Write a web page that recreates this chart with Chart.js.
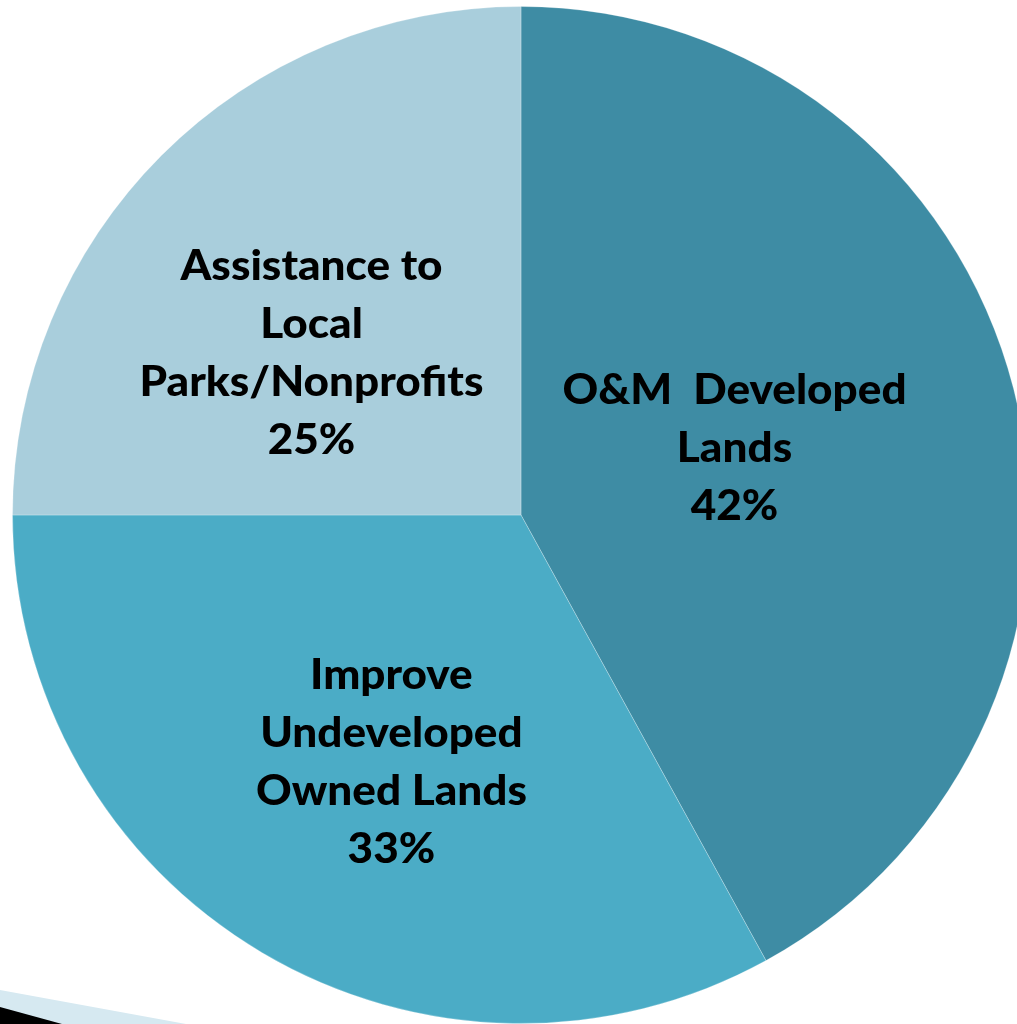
<!DOCTYPE html>
<html>
<head>
<meta charset="utf-8">
<script src="https://cdn.jsdelivr.net/npm/chart.js@4.4.1/dist/chart.umd.min.js"></script>
<style>
  html, body { margin: 0; padding: 0; background: #fff; overflow: hidden; width: 1017px; height: 1024px; }
  #wrap { position: absolute; left: 0; top: 0; width: 1042px; height: 1030px; }
  #deco { position: absolute; left: 0; top: 0; pointer-events: none; }
</style>
</head>
<body>
<div id="wrap"><canvas id="pie" width="1042" height="1030"></canvas></div>
<svg id="deco" width="1017" height="1024">
  <polygon points="0,990 186,1024 0,1024" fill="#d6e9f1"/>
  <polygon points="0,1007 62,1024 0,1024" fill="#000"/>
</svg>
<script>
// Datos del gráfico
const labels = [
    ['O&M  Developed', 'Lands'],
    ['Improve', 'Undeveloped', 'Owned Lands'],
    ['Assistance to', 'Local', 'Parks/Nonprofits']
];
const values = [42, 33, 25];
const colors = ['#3e8ca4', '#4bacc6', '#a9cedc'];

// Etiquetas dentro de cada porción (texto + porcentaje)
const sliceLabels = {
    id: 'sliceLabels',
    afterDatasetsDraw(chart, args, opts) {
        const ctx = chart.ctx;
        const meta = chart.getDatasetMeta(0);
        const total = values.reduce((a, b) => a + b, 0);
        ctx.save();
        ctx.fillStyle = '#000';
        ctx.font = opts.font;
        ctx.textAlign = 'center';
        ctx.textBaseline = 'middle';
        meta.data.forEach(function(arc, i) {
            const mid = (arc.startAngle + arc.endAngle) / 2 + opts.angleShift[i] * Math.PI / 180;
            const r = arc.outerRadius * opts.radius[i];
            const cx = arc.x + Math.cos(mid) * r;
            const cy = arc.y + Math.sin(mid) * r;
            const lines = labels[i].concat([Math.round(values[i] / total * 100) + '%']);
            const top = cy - (lines.length - 1) * opts.lineHeight / 2;
            lines.forEach(function(t, j) {
                ctx.save();
                ctx.translate(cx, top + j * opts.lineHeight);
                ctx.scale(opts.squeeze, 1);
                ctx.fillText(t, 0, 0);
                ctx.restore();
            });
        });
        ctx.restore();
    }
};

new Chart(document.getElementById('pie'), {
    type: 'pie',
    data: {
        labels: labels.map(l => l.join(' ')),
        datasets: [{
            data: values,
            backgroundColor: colors,
            borderColor: 'rgba(255, 255, 255, 0.25)',
            borderWidth: 1
        }]
    },
    options: {
        responsive: false,
        animation: false,
        layout: { padding: { top: 6, bottom: 6, left: 0, right: 0 } },
        plugins: {
            legend: { display: false },
            tooltip: { enabled: false },
            sliceLabels: {
                font: '900 42px Lato',
                lineHeight: 58,
                squeeze: 1.05,
                radius: [0.44, 0.55, 0.52],
                angleShift: [-3, -3, -7.4]
            }
        }
    },
    plugins: [sliceLabels]
});
</script>
</body>
</html>
